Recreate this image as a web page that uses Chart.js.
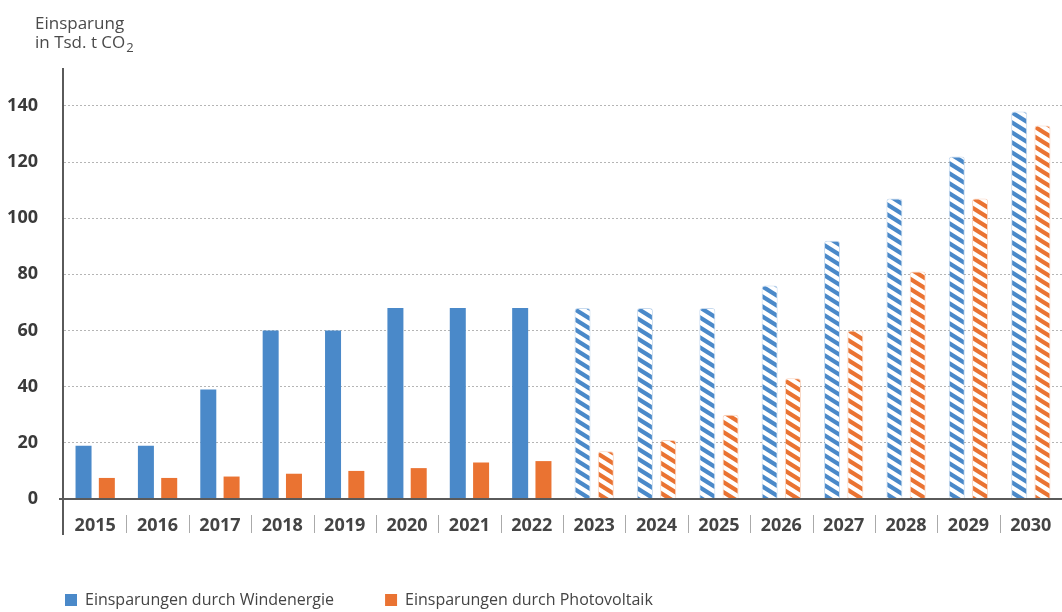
<!DOCTYPE html>
<html>
<head>
<meta charset="utf-8">
<script src="https://cdn.jsdelivr.net/npm/chart.js@4"></script>
<style>
  body { margin: 0; background: #fff; }
  #wrap { width: 1062px; height: 612px; }
</style>
</head>
<body>
<div id="wrap"><canvas id="graph1"></canvas></div>
<script>
const years = ['2015','2016','2017','2018','2019','2020','2021','2022','2023','2024','2025','2026','2027','2028','2029','2030'];
const windValues = [19, 19, 39, 60, 60, 68, 68, 68, 68, 68, 68, 76, 92, 107, 122, 138];
const pvValues = [7.5, 7.5, 8, 9, 10, 11, 13, 13.5, 17, 21, 30, 43, 60, 81, 107, 133];
const seriesNames = ['Einsparungen durch Windenergie', 'Einsparungen durch Photovoltaik'];
const yTicks = [0, 20, 40, 60, 80, 100, 120, 140];
const forecastFrom = '2023';
const titleLines = ['Einsparung', 'in Tsd. t CO'];

const blue = '#4a89c9';
const orange = '#ea7332';
const font = "'Open Sans', sans-serif";
const forecastIdx = years.indexOf(forecastFrom);

// diagonal hatch for the forecast years
function stripes(color) {
  const w = 16, h = 10;
  const c = document.createElement('canvas');
  c.width = w; c.height = h;
  const g = c.getContext('2d');
  g.fillStyle = '#fff';
  g.fillRect(0, 0, w, h);
  g.strokeStyle = color;
  g.lineWidth = 4.2;
  for (let k = -1; k <= 1; k++) {
    g.beginPath();
    g.moveTo(-w, k * h - h);
    g.lineTo(2 * w, k * h + 2 * h);
    g.stroke();
  }
  return g.createPattern(c, 'repeat');
}
const bluePattern = stripes(blue);
const orangePattern = stripes(orange);

function barColor(solid, pattern) {
  return ctx => (ctx.dataIndex >= forecastIdx ? pattern : solid);
}

// title, axis lines and the little separators between years
const decor = {
  id: 'decor',
  afterInit(chart) {
    const fit = chart.legend.fit;
    chart.legend.fit = function () {
      fit.call(this);
      this.height = 71;
    };
  },
  afterLayout(chart) {
    chart.legend.left += 10;
    chart.legend.right += 10;
  },
  afterDraw(chart) {
    const ctx = chart.ctx;
    const area = chart.chartArea;
    const x = chart.scales.x;
    const y = chart.scales.y;
    const base = y.getPixelForValue(0);
    ctx.save();
    ctx.fillStyle = '#4a4a4a';
    ctx.font = '17px ' + font;
    ctx.textBaseline = 'alphabetic';
    ctx.fillText(titleLines[0], 35, 29);
    ctx.fillText(titleLines[1], 35, 48);
    const w = ctx.measureText(titleLines[1]).width;
    ctx.font = '13px ' + font;
    ctx.fillText('2', 36 + w, 52);

    ctx.strokeStyle = '#5a5a5a';
    ctx.lineWidth = 2;
    ctx.beginPath();
    ctx.moveTo(area.left - 5, base);
    ctx.lineTo(area.right, base);
    ctx.moveTo(area.left - 1, area.top);
    ctx.lineTo(area.left - 1, base + 36);
    ctx.stroke();

    ctx.strokeStyle = '#aaa';
    ctx.lineWidth = 1;
    ctx.beginPath();
    for (let i = 1; i < years.length; i++) {
      const px = Math.round((x.getPixelForValue(i - 1) + x.getPixelForValue(i)) / 2) + 0.5;
      ctx.moveTo(px, base + 16);
      ctx.lineTo(px, base + 34);
    }
    ctx.stroke();
    ctx.restore();
  }
};

new Chart(document.getElementById('graph1'), {
  type: 'bar',
  data: {
    labels: years,
    datasets: [{
      label: seriesNames[0],
      data: windValues,
      backgroundColor: barColor(blue, bluePattern),
      borderColor: 'rgba(74,137,201,0.3)',
      borderWidth: ctx => (ctx.dataIndex >= forecastIdx ? 1 : 0),
      borderRadius: ctx => (ctx.dataIndex >= forecastIdx ? 3 : 0),
      borderSkipped: 'bottom'
    }, {
      label: seriesNames[1],
      data: pvValues,
      backgroundColor: barColor(orange, orangePattern),
      borderColor: 'rgba(234,115,50,0.3)',
      borderWidth: ctx => (ctx.dataIndex >= forecastIdx ? 1 : 0),
      borderRadius: ctx => (ctx.dataIndex >= forecastIdx ? 3 : 0),
      borderSkipped: 'bottom'
    }]
  },
  options: {
    responsive: true,
    maintainAspectRatio: false,
    animation: false,
    devicePixelRatio: 1,
    categoryPercentage: 0.747,
    barPercentage: 0.687,
    layout: { padding: { top: 68, left: 4, right: 0, bottom: 0 } },
    plugins: {
      title: { display: false },
      tooltip: { enabled: false },
      legend: {
        position: 'bottom',
        align: 'start',
        labels: {
          boxWidth: 12,
          boxHeight: 12,
          padding: 51,
          color: '#444',
          font: { family: font, size: 16 }
        }
      }
    },
    scales: {
      x: {
        grid: { display: false },
        border: { display: false },
        ticks: {
          color: '#444',
          padding: 8,
          maxRotation: 0,
          font: { family: font, size: 18, weight: 'bold' }
        },
        afterFit(scale) { scale.height = 42; }
      },
      y: {
        min: 0,
        max: 153.5,
        afterBuildTicks(scale) { scale.ticks = yTicks.map(v => ({ value: v })); },
        afterFit(scale) { scale.width = 60; },
        grid: {
          drawTicks: false,
          color: ctx => (ctx.tick && ctx.tick.value === 0 ? 'rgba(0,0,0,0)' : '#b5b5b5'),
          lineWidth: 1
        },
        border: { display: false, dash: [2, 2] },
        ticks: {
          color: '#3a3a3a',
          padding: 26,
          font: { family: font, size: 18, weight: 'bold' }
        }
      }
    }
  },
  plugins: [decor]
});
</script>
</body>
</html>
